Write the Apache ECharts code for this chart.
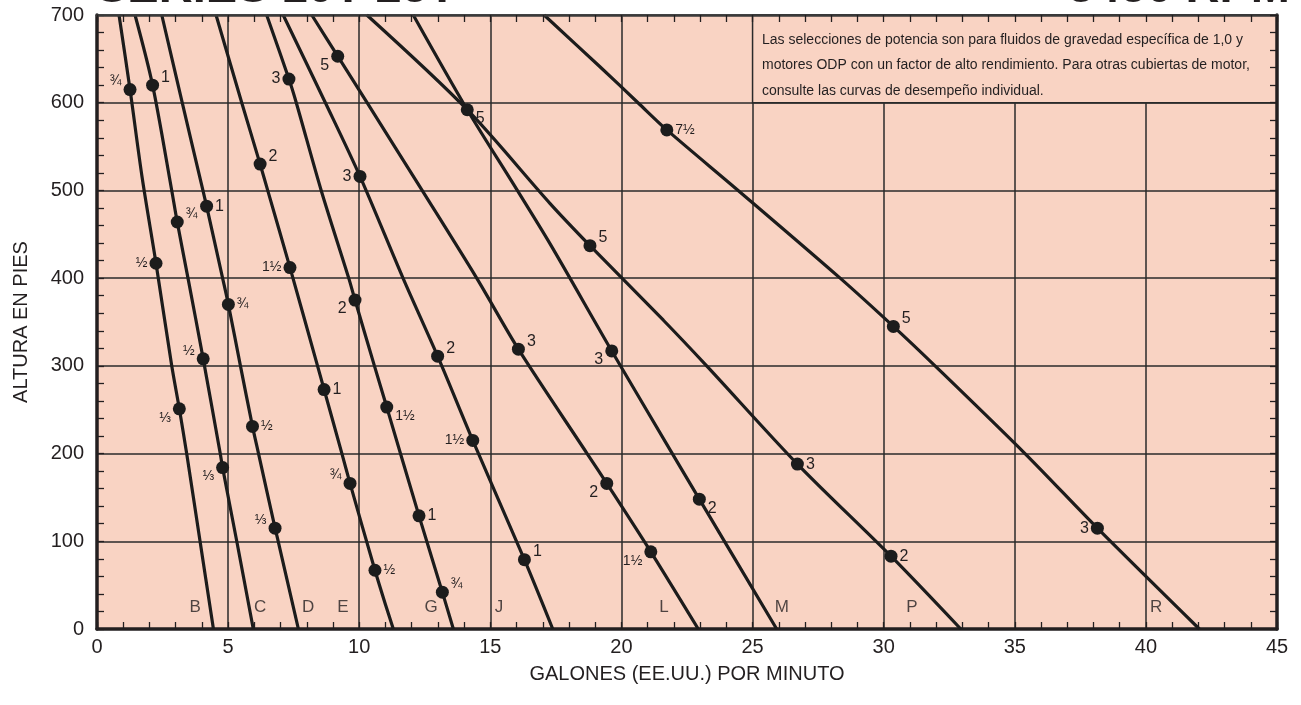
<!DOCTYPE html>
<html><head><meta charset="utf-8">
<script src="https://cdn.jsdelivr.net/npm/echarts@6/dist/echarts.min.js"></script>
<style>html,body{margin:0;padding:0;background:#fff}#c{width:1301px;height:705px}</style>
</head><body><div id="c"></div>
<script>
// ---------- DATA ----------
const curveNames = ['B','C','D','E','G','J','L','M','P','R'];
const curveB = [[0.84,700],[1.26,615],[1.72,515],[2.25,417],[2.85,300],[3.14,251],[3.42,200],[3.93,100],[4.44,0]];
const curveC = [[1.45,700],[2.12,620],[2.85,500],[3.06,464],[3.47,400],[4.05,308],[4.70,200],[4.79,184],[5.33,100],[5.96,0]];
const curveD = [[2.47,700],[3.25,600],[4.04,500],[4.18,482],[4.79,400],[5.01,370],[5.47,300],[5.93,231],[6.16,200],[6.79,115],[6.91,100],[7.68,0]];
const curveE = [[4.54,700],[5.52,600],[6.22,530],[6.51,500],[7.36,412],[8.41,300],[8.66,273],[9.34,200],[9.65,166],[10.60,67],[11.0,28],[11.30,0]];
const curveG = [[6.47,700],[7.32,627],[7.60,600],[8.55,500],[9.60,400],[9.84,375],[10.58,300],[11.05,253],[12.28,129],[13.17,42],[13.59,0]];
const curveJ = [[7.10,700],[8.71,600],[10.03,516],[11.67,400],[12.99,311],[14.33,215],[16.30,79],[17.38,0]];
const curveL = [[8.19,700],[9.18,653],[10.30,600],[12.40,500],[14.48,400],[16.07,319],[18.69,200],[19.44,166],[21.12,88],[22.93,0]];
const curveM = [[12.06,700],[14.12,592],[16.03,500],[17.28,439],[19.63,317],[21.94,200],[22.97,148],[25.92,0]];
const curveP = [[10.29,700],[14.12,592],[17.28,485],[18.80,437],[21.60,352],[23.25,300],[26.71,188],[30.28,83],[32.94,0]];
const curveR = [[17.05,700],[19.18,641],[20.63,600],[21.73,569],[24.45,500],[28.34,400],[30.37,345],[31.96,300],[35.39,200],[38.15,115],[42.04,0]];

// horsepower points: [gpm, feet, hp]
const dotsB = [[1.26,615,'¾'],[2.25,417,'½'],[3.14,251,'⅓']];
const dotsC = [[2.12,620,'1'],[3.06,464,'¾'],[4.05,308,'½'],[4.79,184,'⅓']];
const dotsD = [[4.18,482,'1'],[5.01,370,'¾'],[5.93,231,'½'],[6.79,115,'⅓']];
const dotsE = [[6.22,530,'2'],[7.36,412,'1½'],[8.66,273,'1'],[9.65,166,'¾'],[10.60,67,'½']];
const dotsG = [[7.32,627,'3'],[9.84,375,'2'],[11.05,253,'1½'],[12.28,129,'1'],[13.17,42,'¾']];
const dotsJ = [[10.03,516,'3'],[12.99,311,'2'],[14.33,215,'1½'],[16.30,79,'1']];
const dotsL = [[9.18,653,'5'],[16.07,319,'3'],[19.44,166,'2'],[21.12,88,'1½']];
const dotsM = [[14.12,592,'5'],[19.63,317,'3'],[22.97,148,'2']];
const dotsP = [[18.80,437,'5'],[26.71,188,'3'],[30.28,83,'2']];
const dotsR = [[21.73,569,'7½'],[30.37,345,'5'],[38.15,115,'3']];

// model letter labels near the bottom of each curve
const letterX = [3.74,6.22,8.05,9.38,12.74,15.33,21.62,26.12,31.08,40.39];
const letterY = 25;

const xTitle = 'GALONES (EE.UU.) POR MINUTO';
const yTitle = 'ALTURA EN PIES';
const noteLines = [
  'Las selecciones de potencia son para fluidos de gravedad específica de 1,0 y',
  'motores ODP con un factor de alto rendimiento. Para otras cubiertas de motor,',
  'consulte las curvas de desempeño individual.'
];
const titleLeft = 'SERIES 10T-25T';
const titleRight = '3450 RPM';

// ---------- STYLE ----------
const curves = [curveB,curveC,curveD,curveE,curveG,curveJ,curveL,curveM,curveP,curveR];
const dots = [dotsB,dotsC,dotsD,dotsE,dotsG,dotsJ,dotsL,dotsM,dotsP,dotsR];
// label placement per dot (l/r + u/d)
const place = [
  ['lu','l','ld'],
  ['ru','ru','lu','ld'],
  ['r','r','r','lu'],
  ['ru','l','r','lu','r'],
  ['l','ld','rd','r','ru'],
  ['l','ru','l','ru'],
  ['ld','ru','ld','ld'],
  ['rd','ld','rd'],
  ['ru','r','r'],
  ['r','ru','l']
];
const INK = '#231f20';
const BG = '#f9d3c3';
const FONT = '"Liberation Sans", Arial, Helvetica, sans-serif';

function labelFor(p, txt){
  const side = p[0]==='l' ? 'left' : 'right';
  let dy = 0;
  if (p.indexOf('u')>0) dy = -8;
  if (p.indexOf('d')>0) dy = 9;
  const isFrac = /[¼½¾⅓]/.test(txt);
  return {show:true, position:side, distance:2, offset:[0,dy], color:INK,
          fontSize: isFrac ? 14 : 16, fontFamily:FONT,
          formatter: prm => prm.value[2]};
}

const series = [];
curves.forEach((c,i)=>{
  const s = {
    type:'line', name:curveNames[i], data:c, smooth:0.3, showSymbol:false, symbol:'none',
    lineStyle:{color:'#1c1c1c', width:3.2}, z:3, silent:true
  };
  if (i===0){
    s.markArea = {silent:true,
      itemStyle:{color:BG, borderColor:'#2a2a2a', borderWidth:1.5},
      data:[[{coord:[25,600]},{coord:[45,700]}]]};
  }
  series.push(s);
});
dots.forEach((d,i)=>{
  series.push({
    type:'scatter', data:d.map((p,j)=>({value:p, label:labelFor(place[i][j], p[2])})),
    symbolSize:13, itemStyle:{color:'#1c1c1c', opacity:1}, z:5, silent:true
  });
});
series.push({
  type:'scatter', data:letterX.map((x,i)=>({value:[x,letterY], name:curveNames[i]})),
  symbolSize:0, silent:true, z:5,
  label:{show:true, position:'inside', color:INK, fontSize:17, fontFamily:FONT, formatter: p=>p.name}
});

const tickStyle = {color:INK, width:1.3};
const option = {
  backgroundColor:'#ffffff',
  animation:false,
  grid:{left:97, right:24, top:15, bottom:76, backgroundColor:BG, show:true, borderWidth:0,
        outerBoundsMode:'none', containLabel:false},
  xAxis:[
    {type:'value', min:0, max:45, interval:5, position:'bottom',
     axisLine:{show:true, onZero:false, lineStyle:{color:INK, width:3.5}},
     axisTick:{show:true, inside:true, length:7, lineStyle:tickStyle},
     minorTick:{show:true, splitNumber:5, length:7, lineStyle:tickStyle},
     splitLine:{show:true, lineStyle:{color:'#2a2a2a', width:1.5}},
     axisLabel:{color:INK, fontSize:20, fontFamily:FONT, margin:8},
     name:xTitle, nameLocation:'middle', nameGap:35,
     nameTextStyle:{color:INK, fontSize:20, fontFamily:FONT}},
    {type:'value', min:0, max:45, interval:5, position:'top',
     axisLine:{show:true, onZero:false, lineStyle:{color:'#3a3a3a', width:2.5}},
     axisTick:{show:true, inside:true, length:7, lineStyle:tickStyle},
     minorTick:{show:true, splitNumber:5, length:7, lineStyle:tickStyle},
     splitLine:{show:false}, axisLabel:{show:false}, z:10}
  ],
  yAxis:[
    {type:'value', min:0, max:700, interval:100, position:'left',
     axisLine:{show:true, onZero:false, lineStyle:{color:INK, width:3.5}},
     axisTick:{show:true, inside:true, length:7, lineStyle:tickStyle},
     minorTick:{show:true, splitNumber:5, length:7, lineStyle:tickStyle},
     splitLine:{show:true, lineStyle:{color:'#2a2a2a', width:1.5}},
     axisLabel:{color:INK, fontSize:20, fontFamily:FONT, margin:13},
     name:yTitle, nameLocation:'middle', nameGap:66,
     nameTextStyle:{color:INK, fontSize:20, fontFamily:FONT}},
    {type:'value', min:0, max:700, interval:100, position:'right',
     axisLine:{show:true, onZero:false, lineStyle:{color:INK, width:3.5}},
     axisTick:{show:true, inside:true, length:7, lineStyle:tickStyle},
     minorTick:{show:true, splitNumber:5, length:7, lineStyle:tickStyle},
     splitLine:{show:false}, axisLabel:{show:false}, z:10}
  ],
  graphic:[
    {type:'text', left:96, top:-34, z:20, style:{text:titleLeft, fill:INK, font:'bold 47px ' + FONT}},
    {type:'text', right:11, top:-34, z:20, style:{text:titleRight, fill:INK, font:'bold 47px ' + FONT}},
    ...noteLines.map((t,i)=>({type:'text', left:762, top:33 + i*25.5, z:20,
      style:{text:t, fill:INK, font:'14px ' + FONT}}))
  ],
  series: series
};
const chart = echarts.init(document.getElementById('c'), null, {renderer:'canvas'});
chart.setOption(option);
</script></body></html>
